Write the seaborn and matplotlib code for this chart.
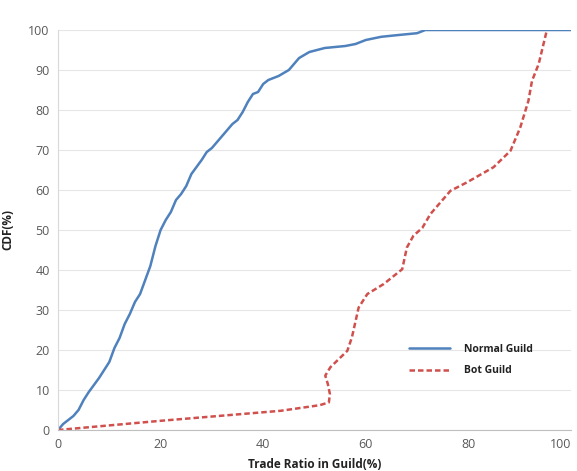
import matplotlib
matplotlib.use("Agg")
import matplotlib.pyplot as plt
import seaborn as sns
import pandas as pd

normal_x = [0, 1, 2, 3, 4, 5, 6, 8, 10, 11, 12, 13, 14, 15, 16, 17, 18, 19, 20, 21, 22, 23, 24,
            25, 26, 28, 29, 30, 32, 34, 35, 36, 37, 38, 39, 40, 41, 43, 45, 46, 47, 49, 52, 56,
            58, 60, 63, 66, 70, 71.6, 100]
normal_y = [0, 1.5, 2.5, 3.5, 5, 7.5, 9.5, 13, 17, 20.5, 23, 26.5, 29, 32, 34, 37.5, 41, 46, 50,
            52.5, 54.5, 57.5, 59, 61, 64, 67.5, 69.5, 70.5, 73.5, 76.5, 77.5, 79.5, 82, 84, 84.5,
            86.5, 87.5, 88.5, 90, 91.5, 93, 94.5, 95.5, 96, 96.5, 97.5, 98.3, 98.7, 99.2, 100, 100]

bot_x = [0, 20, 43.4, 51, 52.8, 53.0, 52.6, 52.1, 53.1, 56.4, 57.3, 58.6, 60.3, 63.5, 67.1, 68,
         69.3, 71, 72.6, 76.5, 79.7, 84.9, 88.2, 90.1, 91.7, 92.4, 93.7, 95.3]
bot_y = [0, 2.3, 4.8, 6.2, 6.9, 9.0, 11.5, 13.6, 15.7, 19.8, 23.2, 30.6, 34, 36.5, 40.2, 45.6,
         48.6, 50.5, 54, 59.8, 61.9, 65.7, 69.8, 75.6, 82.3, 87.3, 91.5, 100]

series_names = ["Normal Guild", "Bot Guild"]
x_ticks = [0, 20, 40, 60, 80, 100]
y_ticks = [0, 10, 20, 30, 40, 50, 60, 70, 80, 90, 100]

sns.set_theme(style="white")
plt.rcParams['font.family'] = ['Open Sans', 'DejaVu Sans']

fig = plt.figure(figsize=(5.77, 4.71), dpi=100)
ax = fig.add_axes([58 / 577, 1 - 430 / 471, (571 - 58) / 577, 400 / 471])

df_n = pd.DataFrame({"x": normal_x, "y": normal_y})
df_b = pd.DataFrame({"x": bot_x, "y": bot_y})

sns.lineplot(data=df_n, x="x", y="y", ax=ax, color="#4f81bd", linewidth=1.8,
             label=series_names[0], sort=False, estimator=None)
sns.lineplot(data=df_b, x="x", y="y", ax=ax, color="#d0504d", linewidth=1.8,
             linestyle=(0, (2.2, 1.2)), label=series_names[1], sort=False, estimator=None)

ax.set_xlim(0, 100)
ax.set_ylim(0, 100)
ax.set_xticks(x_ticks)
ax.set_yticks(y_ticks)
ax.yaxis.grid(True, color="#e6e6e6", linewidth=0.8)
ax.xaxis.grid(False)
for s in ["top", "right"]:
    ax.spines[s].set_visible(False)
ax.spines["left"].set_color("#d9d9d9")
ax.spines["bottom"].set_color("#bfbfbf")
ax.spines["left"].set_linewidth(0.8)
ax.spines["bottom"].set_linewidth(0.8)
ax.tick_params(axis="both", colors="#595959", labelsize=9, length=0, pad=6)
labels = ax.get_xticklabels()
labels[-1].set_horizontalalignment("right")

ax.set_xlabel("Trade Ratio in Guild(%)", fontsize=8.5, fontweight="bold", color="#222222", labelpad=5)
ax.set_ylabel("CDF(%)", fontsize=8.5, fontweight="bold", color="#222222", labelpad=10)

leg = ax.legend(loc="center left", bbox_to_anchor=(0.665, 0.175), frameon=False,
                handlelength=4.0, handletextpad=1.3, labelspacing=1.0,
                prop={"size": 7.5, "weight": "bold"})
for t in leg.get_texts():
    t.set_color("#222222")

fig.savefig("out.png", dpi=100)
